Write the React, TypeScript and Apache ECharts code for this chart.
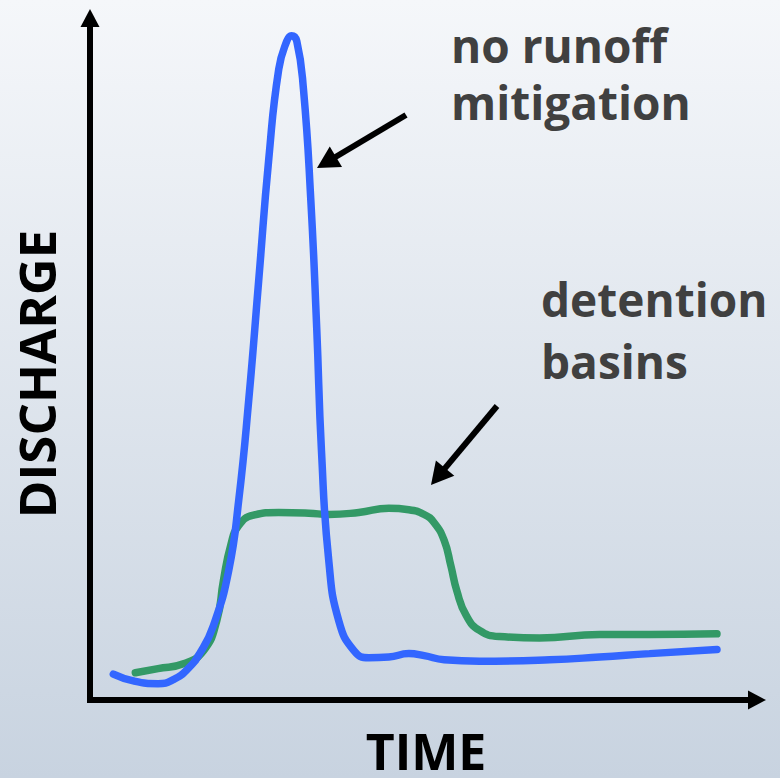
import React, { useEffect, useRef } from "react";
import * as echarts from "echarts";

// Time (arbitrary units, 0..100) and discharge (arbitrary units, 0..100)
const blueTime = [3.5, 6.5, 10.2, 12.5, 14.7, 16.5, 18.5, 20.8, 22.3, 23.8, 25.3, 26.8, 28.3, 29.5, 30.2, 31.0, 32.0, 33.1, 34.0, 34.7, 35.8, 37.3, 39.6, 41.8, 44.8, 47.8, 50.1, 53.1, 58.4, 68.9, 76.4, 83.9, 94.0];
const blueDischarge = [3.8, 2.8, 2.4, 3.0, 4.6, 6.9, 10.9, 19.0, 29.3, 44.0, 61.6, 79.3, 92.5, 96.6, 97.4, 96.6, 89.6, 73.4, 54.3, 36.6, 20.4, 11.6, 7.2, 6.2, 6.3, 6.8, 6.5, 5.9, 5.7, 5.9, 6.3, 6.8, 7.4];

const greenTime = [6.8, 10.2, 14.0, 17.0, 19.0, 20.0, 21.1, 22.3, 24.5, 28.3, 32.8, 35.8, 40.3, 44.8, 47.8, 50.1, 51.6, 53.1, 54.1, 55.0, 56.4, 58.4, 61.4, 67.4, 76.4, 83.9, 94.0];
const greenDischarge = [4.0, 4.6, 5.3, 7.2, 11.6, 17.5, 22.7, 25.6, 27.1, 27.5, 27.4, 27.2, 27.5, 28.1, 27.9, 27.2, 26.0, 23.4, 19.7, 16.0, 12.4, 10.2, 9.3, 9.1, 9.6, 9.6, 9.7];

const blueLabel = ["no runoff", "mitigation"];
const greenLabel = ["detention", "basins"];
const xTitle = "TIME";
const yTitle = "DISCHARGE";

const BLUE = "#3366ff";
const GREEN = "#339966";
const LABEL = "#404040";
const FONT = '"Open Sans", "DejaVu Sans", sans-serif';

function arrow(x1: number, y1: number, x2: number, y2: number) {
  const dx = x2 - x1;
  const dy = y2 - y1;
  const len = Math.sqrt(dx * dx + dy * dy);
  const ux = dx / len;
  const uy = dy / len;
  const headLen = 22;
  const half = 12;
  const bx = x2 - ux * headLen;
  const by = y2 - uy * headLen;
  const nx = uy;
  const ny = -ux;
  return {
    type: "group",
    children: [
      {
        type: "line",
        shape: { x1, y1, x2: bx + ux * 2, y2: by + uy * 2 },
        style: { stroke: "#000", lineWidth: 6 },
      },
      {
        type: "polygon",
        shape: {
          points: [
            [x2, y2],
            [bx + nx * half, by + ny * half],
            [bx - nx * half, by - ny * half],
          ],
        },
        style: { fill: "#000" },
      },
    ],
  };
}

function textEl(text: string, x: number, y: number, size: number, color: string, align: string, rotation = 0) {
  return {
    type: "text",
    x,
    y,
    rotation,
    style: {
      text,
      fill: color,
      fontSize: size,
      fontWeight: "bold",
      fontFamily: FONT,
      lineHeight: Math.round(size * 0.8),
      align,
      verticalAlign: "middle",
      textAlign: align,
      textVerticalAlign: "middle",
    },
  };
}

export default function App() {
  const ref = useRef<HTMLDivElement>(null);

  useEffect(() => {
    if (!ref.current) return;
    const chart = echarts.init(ref.current, null, { renderer: "svg" });
    const blueData = blueTime.map((t, i) => [t, blueDischarge[i]]);
    const greenData = greenTime.map((t, i) => [t, greenDischarge[i]]);

    chart.setOption({
      animation: false,
      backgroundColor: new echarts.graphic.LinearGradient(0, 0, 0, 1, [
        { offset: 0, color: "#f5f7fa" },
        { offset: 1, color: "#c8d3e0" },
      ]),
      grid: { left: 90, right: 23, top: 18, bottom: 78 },
      xAxis: {
        type: "value",
        min: 0,
        max: 100,
        axisLine: {
          show: true,
          symbol: ["none", "triangle"],
          symbolSize: [19, 18],
          lineStyle: { color: "#000", width: 6, cap: "square" },
        },
        axisTick: { show: false },
        axisLabel: { show: false },
        splitLine: { show: false },
      },
      yAxis: {
        type: "value",
        min: 0,
        max: 100,
        axisLine: {
          show: true,
          symbol: ["none", "triangle"],
          symbolSize: [19, 18],
          lineStyle: { color: "#000", width: 6, cap: "square" },
        },
        axisTick: { show: false },
        axisLabel: { show: false },
        splitLine: { show: false },
      },
      series: [
        {
          name: "detention basins",
          type: "line",
          data: greenData,
          showSymbol: false,
          smooth: 0.5,
          lineStyle: { color: GREEN, width: 7.5, cap: "round", join: "round" },
          z: 2,
        },
        {
          name: "no runoff mitigation",
          type: "line",
          data: blueData,
          showSymbol: false,
          smooth: 0.5,
          lineStyle: { color: BLUE, width: 7.5, cap: "round", join: "round" },
          z: 3,
        },
      ],
      graphic: [
        textEl(blueLabel[0], 451, 45, 46, LABEL, "left"),
        textEl(blueLabel[1], 451, 102, 46, LABEL, "left"),
        textEl(greenLabel[0], 541, 299, 46, LABEL, "left"),
        textEl(greenLabel[1], 541, 361, 46, LABEL, "left"),
        textEl(xTitle, 426, 751, 50, "#000", "center"),
        textEl(yTitle, 36, 374, 51, "#000", "center", Math.PI / 2),
        arrow(406, 115, 317, 168),
        arrow(497, 406, 431, 485),
      ],
    });
    return () => chart.dispose();
  }, []);

  return (
    <div
      ref={ref}
      style={{ position: "fixed", left: 0, top: 0, width: 780, height: 778 }}
    />
  );
}
